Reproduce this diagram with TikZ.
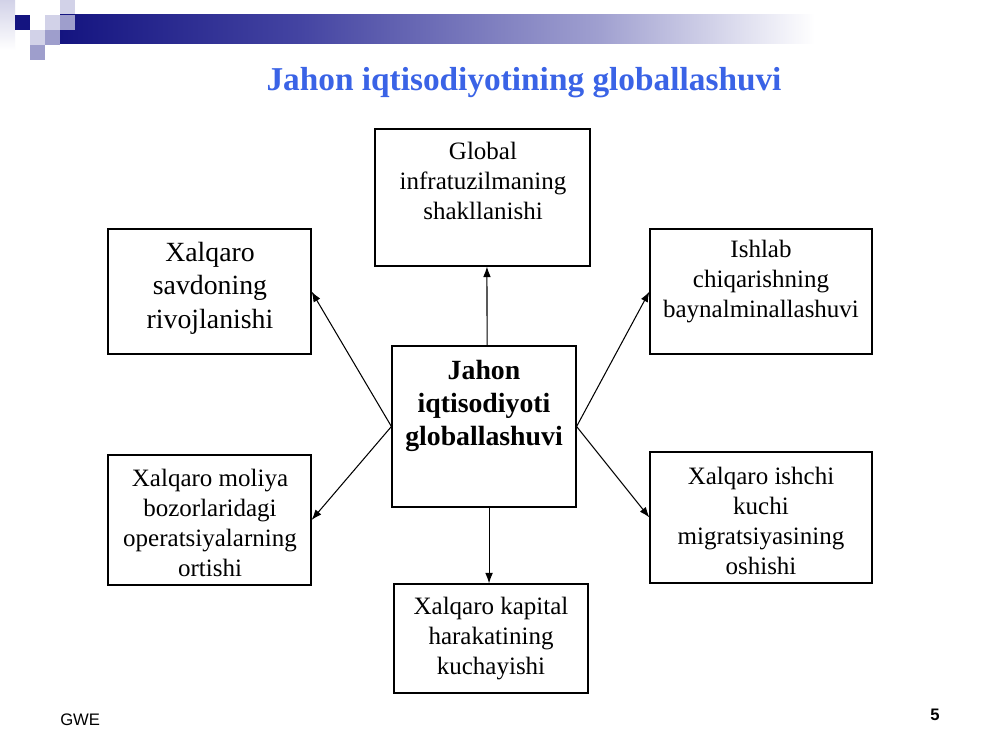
\documentclass[tikz,border=0pt]{standalone}
\usepackage{fontspec}
\setmainfont{Liberation Serif}
\newfontfamily\arialf{Liberation Sans}
\usetikzlibrary{arrows.meta,fit}
\definecolor{navy}{RGB}{20,20,128}
\definecolor{midA}{RGB}{68,68,162}
\definecolor{midB}{RGB}{160,160,208}
\definecolor{paleSq}{RGB}{210,210,232}
\definecolor{medSq}{RGB}{158,158,204}
\definecolor{titleblue}{RGB}{58,99,230}
\tikzset{
  boxn/.style={draw=black, line width=0.85pt, inner sep=0pt},
  txtA/.style={align=center, font=\fontsize{18}{21.6}\selectfont, inner sep=0pt},
  txtB/.style={align=center, font=\fontsize{20}{24}\selectfont, inner sep=0pt},
  txtC/.style={align=center, font=\fontsize{20}{24}\selectfont\bfseries, inner sep=0pt},
  arr/.style={line width=0.75pt, -{Latex[length=7.5pt,width=5.5pt]}}
}
\begin{document}
\begin{tikzpicture}[x=0.72pt,y=-0.72pt]
\useasboundingbox[fill=white] (0,0) rectangle (1000,750);
% header decoration
\shade[top color=paleSq, bottom color=white] (0,0) rectangle (15,50);
\fill[navy] (15,15) rectangle (30,30);
\fill[paleSq] (45,15) rectangle (60,30);
\fill[paleSq] (60,0) rectangle (75,15);
\fill[paleSq] (30,30) rectangle (45,45);
\fill[medSq] (45,30) rectangle (60,45);
\fill[medSq] (30,45) rectangle (45,60);
\shade[left color=navy, right color=midA] (60,15) rectangle (300.5,44);
\shade[left color=midA, right color=midB] (300,15) rectangle (600.5,44);
\shade[left color=midB, right color=white] (600,15) rectangle (815,44);
\fill[medSq] (60,15) rectangle (75,30);
% title
\node[font=\fontsize{24}{28}\selectfont\bfseries, text=titleblue, inner sep=0pt] (title) at (524,83) {Jahon iqtisodiyotining globallashuvi};
% boxes
\node[boxn, fit={(375,129)(590,266)}] (top) {};
\node[boxn, fit={(108,229)(311,354)}] (l1) {};
\node[boxn, fit={(650,229)(872,354)}] (r1) {};
\node[boxn, fit={(392,346)(576,507)}] (c) {};
\node[boxn, fit={(108,455)(311,585)}] (l2) {};
\node[boxn, fit={(650,452)(872,583)}] (r2) {};
\node[boxn, fit={(394,584)(588,693)}] (bot) {};
% texts
\node[txtA] (topT) at (483,181) {Global\\infratuzilmaning\\shakllanishi};
\node[txtB] (l1T) at (210,288) {Xalqaro\\savdoning\\rivojlanishi};
\node[txtA] (r1T) at (761,282) {Ishlab\\chiqarishning\\baynalminallashuvi};
\node[txtC] (cT) at (484,406) {Jahon\\iqtisodiyoti\\globallashuvi};
\node[txtA] (l2T) at (210,523) {Xalqaro moliya\\bozorlaridagi\\operatsiyalarning\\ortishi};
\node[txtA] (r2T) at (761,521) {Xalqaro ishchi\\kuchi\\migratsiyasining\\oshishi};
\node[txtA] (botT) at (491,639) {Xalqaro kapital\\harakatining\\kuchayishi};
% arrows
\draw[arr] ([xshift=2.2pt]c.north) -- ([xshift=3.2pt]top.south);
\draw[arr] (c.west) -- (l1.east);
\draw[arr] (c.west) -- (l2.east);
\draw[arr] (c.east) -- (r1.west);
\draw[arr] (c.east) -- (r2.west);
\draw[arr] ([xshift=-1.4pt]bot.north |- c.south) -- ([xshift=-1.4pt]bot.north);
% footer
\node[font=\arialf\fontsize{12}{14}\selectfont, inner sep=0pt, anchor=west] (gwe) at (60,720) {GWE};
\node[font=\arialf\fontsize{12}{14}\selectfont\bfseries, inner sep=0pt] (pg) at (935,715) {5};
\end{tikzpicture}
\end{document}
